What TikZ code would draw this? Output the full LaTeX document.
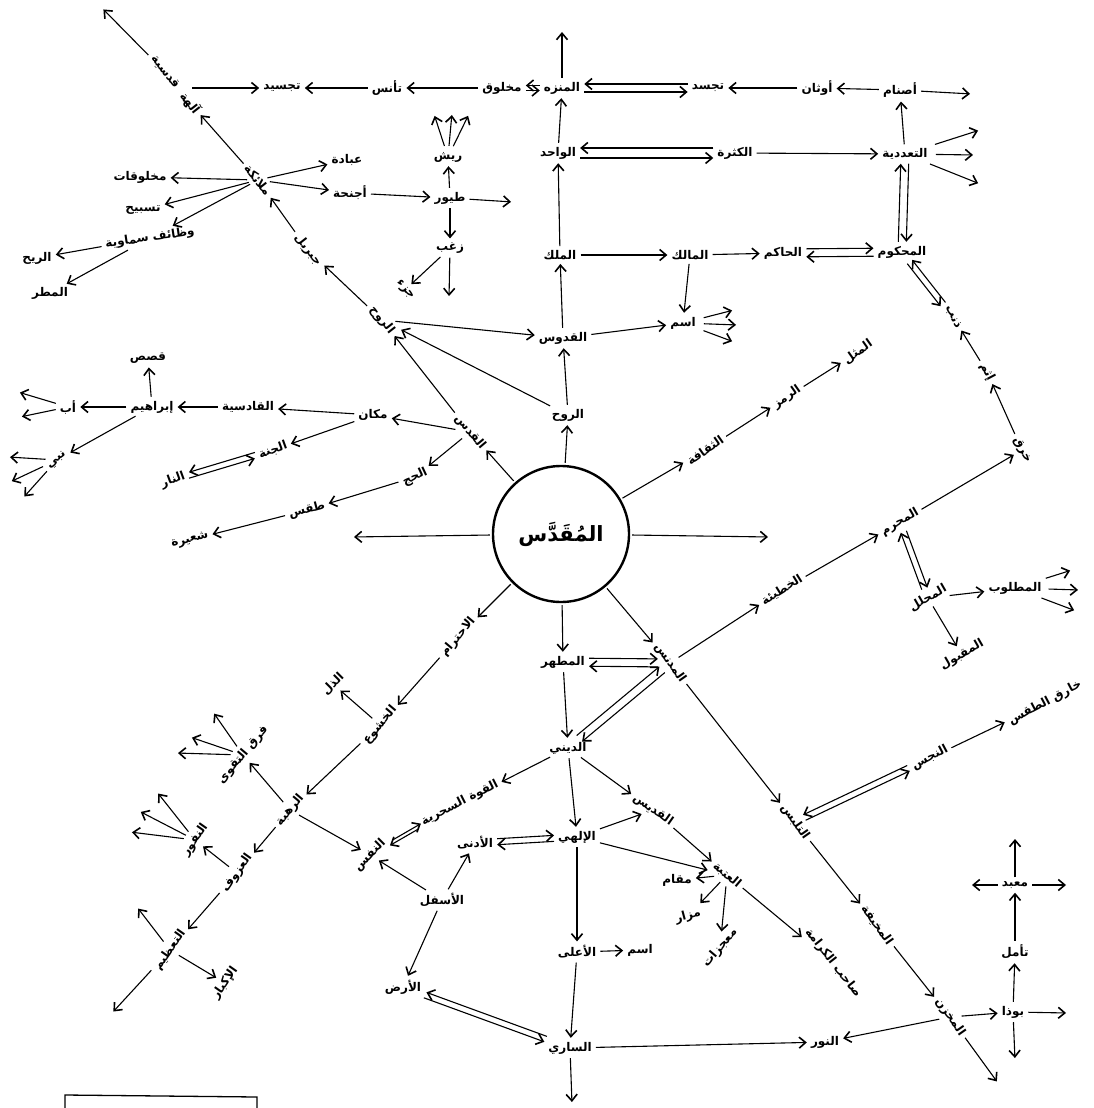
\documentclass[tikz,border=0pt]{standalone}
\usepackage{fontspec}
\usetikzlibrary{arrows.meta,calc}
\newfontfamily\arabicfont[Script=Arabic]{DejaVu Sans}
\TeXXeTstate=1
\newcommand{\artx}[1]{\beginR #1\endR}
\tikzset{
  lbl/.style={font=\arabicfont\bfseries\fontsize{12}{14}\selectfont, inner sep=2pt},
  arr/.style={-{Straight Barb[length=6.5pt,width=11pt,line width=1.6pt]}, line width=1.1pt, shorten >=2pt, shorten <=2pt},
}
\begin{document}
\begin{tikzpicture}[x=1pt,y=-1pt]
\fill[white] (0,0) rectangle (1094,1108);
\useasboundingbox (0,0) rectangle (1094,1108);
% central circle
\node[circle, draw, line width=2.4pt, minimum size=136pt, inner sep=0pt, font=\arabicfont\bfseries\fontsize{21}{25}\selectfont] (sacred) at (561,534) {\artx{المُقَدَّس}};
% top-left diagonal
\node[lbl, rotate=-52] (qudsiya) at (165,72) {\artx{قدسية}};
\node[lbl, rotate=-52] (aliha) at (190,103) {\artx{آلهة}};
\node[lbl, rotate=-52] (malaika) at (258,180) {\artx{ملائكة}};
\node[lbl, rotate=-52] (jibril) at (308,250) {\artx{جبريل}};
\node[lbl, rotate=-52] (rih) at (382,320) {\artx{الروح}};
% top row
\node[lbl] (tajsid) at (282,88) {\artx{تجسيد}};
\node[lbl] (tannus) at (387,88) {\artx{تأنس}};
\node[lbl] (makhluq) at (502,88) {\artx{مخلوق}};
\node[lbl] (munazzah) at (562,88) {\artx{المنزه}};
\node[lbl] (tajassud) at (708,88) {\artx{تجسد}};
\node[lbl] (awthan) at (817,88) {\artx{أوثان}};
\node[lbl] (asnam) at (900,90) {\artx{أصنام}};
% row 2
\node[lbl] (wahid) at (558,153) {\artx{الواحد}};
\node[lbl] (kathra) at (735,153) {\artx{الكثرة}};
\node[lbl] (taaddudiya) at (905,154) {\artx{التعددية}};
% row 3
\node[lbl] (malik) at (560,255) {\artx{الملك}};
\node[lbl] (maalik) at (690,255) {\artx{المالك}};
\node[lbl] (hakim) at (783,253) {\artx{الحاكم}};
\node[lbl] (mahkum) at (902,252) {\artx{المحكوم}};
% row 4
\node[lbl] (quddus) at (563,338) {\artx{القدوس}};
\node[lbl] (ism1) at (683,323) {\artx{اسم}};
% birds
\node[lbl] (ibada) at (347,160) {\artx{عبادة}};
\node[lbl] (ajniha) at (350,193) {\artx{أجنحة}};
\node[lbl] (tuyur) at (450,198) {\artx{طيور}};
\node[lbl] (rish) at (448,157) {\artx{ريش}};
\node[lbl] (zaghab) at (450,248) {\artx{زغب}};
\node[lbl, rotate=-50] (juz) at (405,290) {\artx{جزء}};
\node[lbl] (makhluqat) at (140,177) {\artx{مخلوقات}};
\node[lbl] (tasbih) at (143,210) {\artx{تسبيح}};
\node[lbl, rotate=8] (wazaif) at (150,238) {\artx{وظائف سماوية}};
\node[lbl] (rih2) at (37,258) {\artx{الريح}};
\node[lbl] (matar) at (50,293) {\artx{المطر}};
% left middle
\node[lbl, rotate=-50] (quds) at (470,432) {\artx{القدس}};
\node[lbl] (makan) at (373,415) {\artx{مكان}};
\node[lbl] (qadisiya) at (248,407) {\artx{القادسية}};
\node[lbl] (ibrahim) at (152,407) {\artx{إبراهيم}};
\node[lbl] (qisas) at (148,358) {\artx{قصص}};
\node[lbl] (ab) at (68,407) {\artx{أب}};
\node[lbl, rotate=40] (nabi) at (57,460) {\artx{نبي}};
\node[lbl, rotate=20] (janna) at (273,450) {\artx{الجنة}};
\node[lbl, rotate=20] (nar) at (173,480) {\artx{النار}};
\node[lbl, rotate=25] (hajj) at (415,477) {\artx{الحج}};
\node[lbl, rotate=15] (taqs) at (307,510) {\artx{طقس}};
\node[lbl, rotate=15] (shaira) at (190,540) {\artx{شعيرة}};
% centre
\node[lbl] (ruh) at (568,415) {\artx{الروح}};
\node[lbl, rotate=35] (thaqafa) at (705,450) {\artx{الثقافة}};
\node[lbl, rotate=35] (ramz) at (787,397) {\artx{الرمز}};
\node[lbl, rotate=35] (mathal) at (858,352) {\artx{المثل}};
% right
\node[lbl, rotate=-62] (dhanb) at (953,317) {\artx{ذنب}};
\node[lbl, rotate=-62] (ithm) at (987,372) {\artx{إثم}};
\node[lbl, rotate=-62] (kharq) at (1022,450) {\artx{خرق}};
\node[lbl, rotate=30] (muharram) at (900,522) {\artx{المحرم}};
\node[lbl, rotate=32] (khatia) at (782,590) {\artx{الخطيئة}};
\node[lbl, rotate=30] (muhallal) at (928,598) {\artx{المحلل}};
\node[lbl] (matlub) at (1015,588) {\artx{المطلوب}};
\node[lbl, rotate=30] (maqbul) at (962,655) {\artx{المقبول}};
% lower centre
\node[lbl, rotate=-55] (mudannas) at (670,663) {\artx{المدنس}};
\node[lbl] (mutahhar) at (563,662) {\artx{المطهر}};
\node[lbl] (dini) at (568,748) {\artx{الديني}};
\node[lbl, rotate=27] (sihr) at (460,803) {\artx{القوة السحرية}};
\node[lbl, rotate=-35] (qiddis) at (653,810) {\artx{القديس}};
\node[lbl] (ilahi) at (577,837) {\artx{الإلهي}};
\node[lbl] (adna) at (475,843) {\artx{الأدنى}};
\node[lbl, rotate=45] (nafs) at (370,855) {\artx{النفس}};
\node[lbl] (asfal) at (442,900) {\artx{الأسفل}};
\node[lbl] (ard) at (403,987) {\artx{الأرض}};
\node[lbl] (aala) at (577,952) {\artx{الأعلى}};
\node[lbl] (ism2) at (640,950) {\artx{اسم}};
\node[lbl] (sari) at (570,1048) {\artx{الساري}};
\node[lbl] (nur) at (825,1042) {\artx{النور}};
\node[lbl, rotate=-40] (ataba) at (727,875) {\artx{العتبة}};
\node[lbl] (maqam) at (677,880) {\artx{مقام}};
\node[lbl, rotate=15] (mazar) at (688,916) {\artx{مزار}};
\node[lbl, rotate=50] (mujizat) at (720,948) {\artx{معجزات}};
\node[lbl, rotate=-52] (sahib) at (833,963) {\artx{صاحب الكرامة}};
% lower left
\node[lbl, rotate=50] (ihtiram) at (458,637) {\artx{الاحترام}};
\node[lbl, rotate=50] (khushu) at (380,725) {\artx{الخشوع}};
\node[lbl, rotate=45] (dhull) at (333,684) {\artx{الذل}};
\node[lbl, rotate=50] (rahba) at (290,810) {\artx{الرهبة}};
\node[lbl, rotate=50] (firaq) at (243,755) {\artx{فرق التقوى}};
\node[lbl, rotate=55] (nufur) at (195,840) {\artx{النفور}};
\node[lbl, rotate=55] (uzuf) at (237,873) {\artx{العزوف}};
\node[lbl, rotate=55] (taazim) at (170,950) {\artx{التعظيم}};
\node[lbl, rotate=55] (ikbar) at (225,983) {\artx{الإكبار}};
% lower right
\node[lbl, rotate=-55] (talabbus) at (795,822) {\artx{التلبس}};
\node[lbl, rotate=28] (najas) at (930,758) {\artx{النجس}};
\node[lbl, rotate=28] (khariq) at (1045,703) {\artx{خارق الطقس}};
\node[lbl, rotate=-55] (mukhifa) at (877,925) {\artx{المخيفة}};
\node[lbl, rotate=-55] (makhzan) at (950,1017) {\artx{المخزن}};
\node[lbl] (budha) at (1013,1012) {\artx{بوذا}};
\node[lbl] (taammul) at (1015,952) {\artx{تأمل}};
\node[lbl] (mabad) at (1015,885) {\artx{معبد}};

% free ends
\coordinate (cTL) at (102,8);
\coordinate (cMzU) at (562,30);
\coordinate (cAsR) at (972,94);
\coordinate (cT1) at (980,130);
\coordinate (cT2) at (975,155);
\coordinate (cT3) at (980,184);
\coordinate (cI1) at (734,310);
\coordinate (cI2) at (738,325);
\coordinate (cI3) at (734,342);
\coordinate (cR1) at (434,114);
\coordinate (cR2) at (452,113);
\coordinate (cR3) at (469,114);
\coordinate (cTuR) at (513,202);
\coordinate (cZgD) at (449,298);
\coordinate (cAb1) at (18,392);
\coordinate (cAb2) at (20,417);
\coordinate (cNb1) at (8,457);
\coordinate (cNb2) at (10,482);
\coordinate (cNb3) at (23,498);
\coordinate (cL) at (352,537);
\coordinate (cR) at (770,537);
\coordinate (cM1) at (1072,570);
\coordinate (cM2) at (1080,590);
\coordinate (cM3) at (1076,611);
\coordinate (cSd) at (572,1104);
\coordinate (cF1) at (213,712);
\coordinate (cF2) at (190,737);
\coordinate (cF3) at (176,753);
\coordinate (cN1) at (157,792);
\coordinate (cN2) at (139,811);
\coordinate (cN3) at (130,832);
\coordinate (cTz1) at (137,907);
\coordinate (cTz2) at (112,1013);
\coordinate (cMzDR) at (998,1083);
\coordinate (cBR) at (1068,1013);
\coordinate (cBD) at (1015,1060);
\coordinate (cMbU) at (1015,837);
\coordinate (cMbL) at (970,885);
\coordinate (cMbR) at (1068,885);

% top-left diagonal
\draw[arr] (qudsiya) -- (cTL);
\draw[arr] (malaika) -- (aliha);
\draw[arr] (jibril) -- (malaika);
\draw[arr] (rih) -- (jibril);
\draw[arr] (aliha |- tajsid) -- (tajsid);
% top row
\draw[arr] (tannus) -- (tajsid);
\draw[arr] (makhluq) -- (tannus);
\draw[arr, transform canvas={yshift=2.5pt}] (munazzah) -- (makhluq);
\draw[arr, transform canvas={yshift=-2.5pt}] (makhluq) -- (munazzah);
\draw[arr, transform canvas={yshift=4pt}] (tajassud) -- (munazzah);
\draw[arr, transform canvas={yshift=-4pt}] (munazzah) -- (tajassud);
\draw[arr] (awthan) -- (tajassud);
\draw[arr] (asnam) -- (awthan);
\draw[arr] (asnam) -- (cAsR);
\draw[arr] (munazzah) -- (cMzU);
% row 2
\draw[arr] (wahid) -- (munazzah);
\draw[arr, transform canvas={yshift=5pt}] (kathra) -- (wahid);
\draw[arr, transform canvas={yshift=-5pt}] (wahid) -- (kathra);
\draw[arr] (kathra) -- (taaddudiya);
\draw[arr] (taaddudiya) -- (asnam);
\draw[arr, shorten <=6pt] (taaddudiya) -- (cT1);
\draw[arr, shorten <=6pt] (taaddudiya) -- (cT2);
\draw[arr, shorten <=6pt] (taaddudiya) -- (cT3);
\draw[arr, transform canvas={xshift=-4pt}] (mahkum) -- (taaddudiya);
\draw[arr, transform canvas={xshift=4pt}] (taaddudiya) -- (mahkum);
% row 3
\draw[arr] (malik) -- (wahid);
\draw[arr] (malik) -- (maalik);
\draw[arr] (maalik) -- (hakim);
\draw[arr, transform canvas={yshift=4pt}] (hakim) -- (mahkum);
\draw[arr, transform canvas={yshift=-4pt}] (mahkum) -- (hakim);
\draw[arr] (maalik) -- (ism1);
% row 4
\draw[arr] (quddus) -- (malik);
\draw[arr] (quddus) -- (ism1);
\draw[arr] (rih) -- (quddus);
\draw[arr, shorten <=6pt] (ism1) -- (cI1);
\draw[arr, shorten <=6pt] (ism1) -- (cI2);
\draw[arr, shorten <=6pt] (ism1) -- (cI3);
% birds
\draw[arr] (malaika) -- (ibada);
\draw[arr] (malaika) -- (ajniha);
\draw[arr] (malaika) -- (makhluqat);
\draw[arr] (malaika) -- (tasbih);
\draw[arr] (malaika) -- (wazaif);
\draw[arr] (wazaif) -- (rih2);
\draw[arr] (wazaif) -- (matar);
\draw[arr] (ajniha) -- (tuyur);
\draw[arr] (tuyur) -- (rish);
\draw[arr, shorten <=4pt] (rish) -- (cR1);
\draw[arr, shorten <=4pt] (rish) -- (cR2);
\draw[arr, shorten <=4pt] (rish) -- (cR3);
\draw[arr] (tuyur) -- (cTuR);
\draw[arr] (tuyur) -- (zaghab);
\draw[arr] (zaghab) -- (cZgD);
\draw[arr] (zaghab) -- (juz);
% left middle
\draw[arr] (sacred) -- (quds);
\draw[arr] (quds) -- (rih);
\draw[arr] (ruh) -- (rih);
\draw[arr] (quds) -- (makan);
\draw[arr] (quds) -- (hajj);
\draw[arr] (makan) -- (qadisiya);
\draw[arr] (qadisiya) -- (ibrahim);
\draw[arr] (ibrahim) -- (ab);
\draw[arr] (ibrahim) -- (qisas);
\draw[arr] (ibrahim) -- (nabi);
\draw[arr] (ab) -- (cAb1);
\draw[arr] (ab) -- (cAb2);
\draw[arr] (nabi) -- (cNb1);
\draw[arr] (nabi) -- (cNb2);
\draw[arr] (nabi) -- (cNb3);
\draw[arr] (makan) -- (janna);
\draw[arr, transform canvas={yshift=3pt}] (janna) -- (nar);
\draw[arr, transform canvas={yshift=-3pt}] (nar) -- (janna);
\draw[arr] (hajj) -- (taqs);
\draw[arr] (taqs) -- (shaira);
% centre
\draw[arr] (sacred) -- (ruh);
\draw[arr] (ruh) -- (quddus);
\draw[arr] (sacred) -- (thaqafa);
\draw[arr] (thaqafa) -- (ramz);
\draw[arr] (ramz) -- (mathal);
\draw[arr] (sacred) -- (cL);
\draw[arr] (sacred) -- (cR);
% right
\draw[arr, transform canvas={shift={(2.4pt,1.9pt)}}] (dhanb) -- (mahkum);
\draw[arr, transform canvas={shift={(-2.4pt,-1.9pt)}}] (mahkum) -- (dhanb);
\draw[arr] (ithm) -- (dhanb);
\draw[arr] (kharq) -- (ithm);
\draw[arr] (muharram) -- (kharq);
\draw[arr] (khatia) -- (muharram);
\draw[arr, transform canvas={shift={(-2.8pt,-1pt)}}] (muhallal) -- (muharram);
\draw[arr, transform canvas={shift={(2.8pt,1pt)}}] (muharram) -- (muhallal);
\draw[arr] (muhallal) -- (matlub);
\draw[arr, shorten <=5pt] (matlub) -- (cM1);
\draw[arr, shorten <=5pt] (matlub) -- (cM2);
\draw[arr, shorten <=5pt] (matlub) -- (cM3);
\draw[arr] (muhallal) -- (maqbul);
% lower centre
\draw[arr] (sacred) -- (mutahhar);
\draw[arr] (sacred) -- (mudannas);
\draw[arr, transform canvas={yshift=4pt}] (mutahhar) -- (mudannas);
\draw[arr, transform canvas={yshift=-4pt}] (mudannas) -- (mutahhar);
\draw[arr, transform canvas={shift={(-2.7pt,3pt)}}] (dini) -- (mudannas);
\draw[arr, transform canvas={shift={(2.7pt,-3pt)}}] (mudannas) -- (dini);
\draw[arr] (mudannas) -- (khatia);
\draw[arr] (mudannas) -- (talabbus);
\draw[arr] (mutahhar) -- (dini);
\draw[arr] (dini) -- (sihr);
\draw[arr] (dini) -- (qiddis);
\draw[arr] (dini) -- (ilahi);
\draw[arr] (ilahi) -- (qiddis);
\draw[arr, transform canvas={yshift=3pt}] (adna) -- (ilahi);
\draw[arr, transform canvas={yshift=-3pt}] (ilahi) -- (adna);
\draw[arr, transform canvas={shift={(1.3pt,2.7pt)}}] (nafs) -- (sihr);
\draw[arr, transform canvas={shift={(-1.3pt,-2.7pt)}}] (sihr) -- (nafs);
\draw[arr] (asfal) -- (adna);
\draw[arr] (asfal) -- (nafs);
\draw[arr] (asfal) -- (ard);
\draw[arr, transform canvas={shift={(-1.3pt,-2.7pt)}}] (ard) -- (sari);
\draw[arr, transform canvas={shift={(1.3pt,2.7pt)}}] (sari) -- (ard);
\draw[arr] (ilahi) -- (aala);
\draw[arr] (aala) -- (ism2);
\draw[arr] (aala) -- (sari);
\draw[arr] (sari) -- (cSd);
\draw[arr] (sari) -- (nur);
\draw[arr] (ilahi) -- (ataba);
\draw[arr] (qiddis) -- (ataba);
\draw[arr] (ataba) -- (maqam);
\draw[arr] (ataba) -- (mazar);
\draw[arr] (ataba) -- (mujizat);
\draw[arr] (ataba) -- (sahib);
% lower left
\draw[arr] (sacred) -- (ihtiram);
\draw[arr] (ihtiram) -- (khushu);
\draw[arr] (khushu) -- (dhull);
\draw[arr] (khushu) -- (rahba);
\draw[arr] (rahba) -- (firaq);
\draw[arr] (firaq) -- (cF1);
\draw[arr] (firaq) -- (cF2);
\draw[arr] (firaq) -- (cF3);
\draw[arr] (rahba) -- (nafs);
\draw[arr] (rahba) -- (uzuf);
\draw[arr] (uzuf) -- (nufur);
\draw[arr] (nufur) -- (cN1);
\draw[arr] (nufur) -- (cN2);
\draw[arr] (nufur) -- (cN3);
\draw[arr] (uzuf) -- (taazim);
\draw[arr] (taazim) -- (cTz1);
\draw[arr] (taazim) -- (ikbar);
\draw[arr] (taazim) -- (cTz2);
% lower right
\draw[arr, transform canvas={shift={(-1.3pt,2.7pt)}}] (najas) -- (talabbus);
\draw[arr, transform canvas={shift={(1.3pt,-2.7pt)}}] (talabbus) -- (najas);
\draw[arr] (najas) -- (khariq);
\draw[arr] (talabbus) -- (mukhifa);
\draw[arr] (mukhifa) -- (makhzan);
\draw[arr] (makhzan) -- (nur);
\draw[arr] (makhzan) -- (cMzDR);
\draw[arr] (makhzan) -- (budha);
\draw[arr] (budha) -- (cBR);
\draw[arr] (budha) -- (cBD);
\draw[arr] (budha) -- (taammul);
\draw[arr] (taammul) -- (mabad);
\draw[arr] (mabad) -- (cMbU);
\draw[arr] (mabad) -- (cMbL);
\draw[arr] (mabad) -- (cMbR);
% box fragment at bottom left
\draw[line width=1.3pt] (65,1108) -- (65,1095) -- (257,1097) -- (257,1108);
\end{tikzpicture}
\end{document}
